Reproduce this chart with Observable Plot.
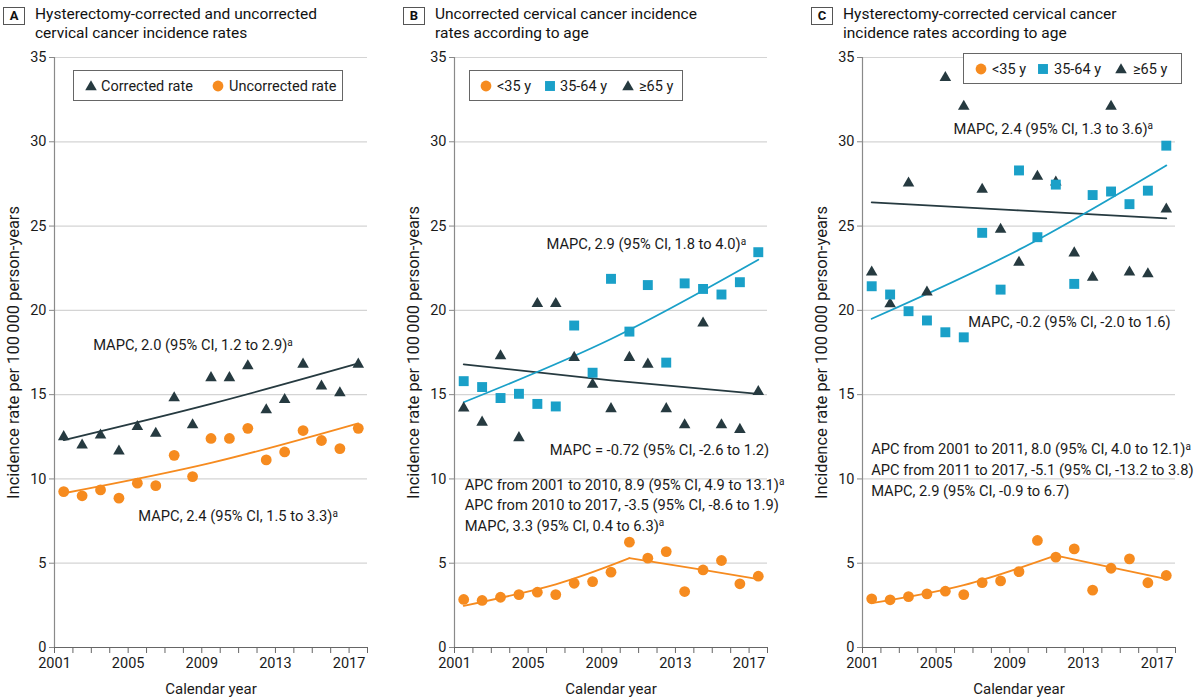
<!DOCTYPE html>
<html>
<head>
<meta charset="utf-8">
<script src="https://cdn.jsdelivr.net/npm/d3@7"></script>
<script src="https://cdn.jsdelivr.net/npm/@observablehq/plot@0.6"></script>
<style>
  body { margin: 0; background: #fff; font-family: Roboto, "Noto Sans", sans-serif; color: #1a1a1a; }
  #root { position: relative; width: 1200px; height: 700px; overflow: hidden; background: #fff; }
  .panel { position: absolute; top: 0; width: 400px; height: 700px; }
  .panel .plotwrap { position: absolute; left: 0; top: 50px; }
  .panel svg { overflow: visible; }
  .tag { position: absolute; left: 3px; top: 7px; width: 22px; height: 18px; border: 1px solid #555; box-sizing: border-box;
         font-weight: bold; font-size: 13px; text-align: center; line-height: 16px; color: #111; }
  .title { position: absolute; left: 35px; top: 5px; font-size: 15.5px; line-height: 18.5px; color: #111; white-space: nowrap; }
  .legend { position: absolute; border: 1px solid #666; background: #fff; box-sizing: border-box; height: 31px; }
  .legend .sym { position: absolute; top: 50%; transform: translate(-50%, -50%); }
  .legend .lab { position: absolute; top: 50%; transform: translateY(-50%); font-size: 14.5px; white-space: nowrap; color: #1a1a1a; }
</style>
</head>
<body>
<div id="root"></div>
<script>
// ---------- data ----------
const years = [2001, 2002, 2003, 2004, 2005, 2006, 2007, 2008, 2009, 2010, 2011, 2012, 2013, 2014, 2015, 2016, 2017];
const xAxisTicks = [2001, 2002, 2003, 2004, 2005, 2006, 2007, 2008, 2009, 2010, 2011, 2012, 2013, 2014, 2015, 2016, 2017, 2018];
const xTickLabels = [2001, 2005, 2009, 2013, 2017];
const yTicks = [0, 5, 10, 15, 20, 25, 30, 35];

// Panel A
const aCorrected   = [12.5, 12.0, 12.6, 11.65, 13.1, 12.7, 14.8, 13.2, 16.0, 16.0, 16.7, 14.1, 14.7, 16.8, 15.5, 15.1, 16.8];
const aUncorrected = [9.25, 9.0, 9.35, 8.86, 9.75, 9.6, 11.4, 10.14, 12.4, 12.4, 13.0, 11.13, 11.6, 12.87, 12.28, 11.8, 13.0];
const aCorrectedTrend   = [[2001, 12.3], [2009, 14.45], [2017, 16.85]];
const aUncorrectedTrend = [[2001, 9.15], [2009, 10.95], [2017, 13.3]];

// Panel B (uncorrected, by age)
const bUnder35 = [2.85, 2.79, 2.98, 3.14, 3.28, 3.14, 3.81, 3.91, 4.47, 6.25, 5.3, 5.69, 3.32, 4.6, 5.16, 3.78, 4.23];
const b35to64  = [15.8, 15.45, 14.8, 15.05, 14.45, 14.3, 19.1, 16.3, 21.87, 18.74, 21.5, 16.9, 21.6, 21.27, 20.94, 21.67, 23.45];
const b65plus  = [14.2, 13.36, 17.3, 12.44, 20.4, 20.4, 17.2, 15.6, 14.16, 17.2, 16.8, 14.16, 13.2, 19.24, 13.2, 12.93, 15.18];
const bUnder35TrendA = [[2001, 2.47], [2006, 3.75], [2010, 5.3]];
const bUnder35TrendB = [[2010, 5.3], [2014, 4.6], [2017, 4.06]];
const b35to64Trend   = [[2001, 14.55], [2009, 18.3], [2017, 23.0]];
const b65plusTrend   = [[2001, 16.8], [2009, 15.85], [2017, 15.05]];

// Panel C (hysterectomy-corrected, by age)
const cUnder35 = [2.89, 2.83, 3.02, 3.18, 3.34, 3.14, 3.85, 3.95, 4.5, 6.35, 5.36, 5.85, 3.4, 4.7, 5.26, 3.84, 4.27];
const c35to64  = [21.43, 20.94, 19.95, 19.4, 18.7, 18.4, 24.6, 21.23, 28.3, 24.34, 27.46, 21.57, 26.84, 27.05, 26.3, 27.1, 29.77];
const c65plus  = [22.26, 20.38, 27.54, 21.08, 33.8, 32.1, 27.17, 24.8, 22.85, 27.94, 27.6, 23.4, 21.96, 32.1, 22.26, 22.16, 26.0];
const cUnder35TrendA = [[2001, 2.63], [2006, 3.7], [2011, 5.46]];
const cUnder35TrendB = [[2011, 5.46], [2014, 4.75], [2017, 4.07]];
const c35to64Trend   = [[2001, 19.5], [2009, 23.6], [2017, 28.6]];
const c65plusTrend   = [[2001, 26.4], [2009, 25.93], [2017, 25.46]];

// text
const yLabel = "Incidence rate per 100\u2009000 person-years";
const xLabel = "Calendar year";
const titles = {
  A: ["Hysterectomy-corrected and uncorrected", "cervical cancer incidence rates"],
  B: ["Uncorrected cervical cancer incidence", "rates according to age"],
  C: ["Hysterectomy-corrected cervical cancer", "incidence rates according to age"]
};
const annotationsA = [
  {x: 2003.1, y: 17.9, text: "MAPC, 2.0 (95% CI, 1.2 to 2.9)ᵃ"},
  {x: 2005.55, y: 7.77, text: "MAPC, 2.4 (95% CI, 1.5 to 3.3)ᵃ"}
];
const annotationsB = [
  {x: 2006.0, y: 23.9, text: "MAPC, 2.9 (95% CI, 1.8 to 4.0)ᵃ"},
  {x: 2006.18, y: 11.72, text: "MAPC = -0.72 (95% CI, -2.6 to 1.2)"},
  {x: 2001.55, y: 9.65, text: "APC from 2001 to 2010, 8.9 (95% CI, 4.9 to 13.1)ᵃ"},
  {x: 2001.55, y: 8.42, text: "APC from 2010 to 2017, -3.5 (95% CI, -8.6 to 1.9)"},
  {x: 2001.55, y: 7.2, text: "MAPC, 3.3 (95% CI, 0.4 to 6.3)ᵃ"}
];
const annotationsC = [
  {x: 2005.94, y: 30.77, text: "MAPC, 2.4 (95% CI, 1.3 to 3.6)ᵃ"},
  {x: 2006.75, y: 19.3, text: "MAPC, -0.2 (95% CI, -2.0 to 1.6)"},
  {x: 2001.47, y: 11.73, text: "APC from 2001 to 2011, 8.0 (95% CI, 4.0 to 12.1)ᵃ"},
  {x: 2001.47, y: 10.54, text: "APC from 2011 to 2017, -5.1 (95% CI, -13.2 to 3.8)"},
  {x: 2001.47, y: 9.27, text: "MAPC, 2.9 (95% CI, -0.9 to 6.7)"}
];

// ---------- style ----------
const ORANGE = "#f68b1f", TEAL = "#1aa0c8", DARK = "#263a40";
const symStyle = {
  circle:   {symbol: "circle",   r: 5.4, fill: ORANGE},
  square:   {symbol: "square",   r: 5.6, fill: TEAL},
  triangle: {symbol: "triangle", r: 4.3, fill: DARK}
};

function rows(vals) { return years.map((yr, i) => ({x: yr + 0.5, y: vals[i]})); }
function trendRows(pts) { return pts.map(([yr, v]) => ({x: yr + 0.5, y: v})); }

function makePanel({letter, left, series, trends, annotations, legend}) {
  const root = document.getElementById("root");
  const panel = document.createElement("div");
  panel.className = "panel";
  panel.style.left = left + "px";
  root.appendChild(panel);

  const tag = document.createElement("div");
  tag.className = "tag"; tag.textContent = letter;
  panel.appendChild(tag);
  const title = document.createElement("div");
  title.className = "title";
  title.innerHTML = titles[letter].join("<br>");
  panel.appendChild(title);

  const marks = [
    Plot.gridY(yTicks.filter(v => v > 0), {stroke: "#d4d4d4", strokeOpacity: 1, strokeWidth: 1.2}),
    Plot.axisY(yTicks, {tickSize: 5, tickPadding: 3, stroke: "#888", fontSize: 14.5, label: null}),
    Plot.axisY({label: yLabel, labelAnchor: "center", labelArrow: "none", labelOffset: 47, fontSize: 16.5,
      ticks: [], tickSize: 0}),
    Plot.axisX(xAxisTicks, {tickSize: 6, tickPadding: 4, stroke: "#666", fontSize: 14.5,
      tickFormat: d => xTickLabels.includes(d) ? String(d) : "", label: null}),
    Plot.axisX({label: xLabel, labelAnchor: "center", labelArrow: "none", labelOffset: 46, fontSize: 15,
      ticks: [], tickSize: 0}),
    Plot.ruleX([2001], {stroke: "#8a8a8a", strokeWidth: 1.2}),
    Plot.ruleY([0], {stroke: "#666", strokeWidth: 1})
  ];
  for (const t of trends) {
    marks.push(Plot.line(trendRows(t.pts), {x: "x", y: "y", stroke: t.color, strokeWidth: 1.8, curve: "natural"}));
  }
  for (const s of series) {
    const st = symStyle[s.shape];
    marks.push(Plot.dot(rows(s.values), {x: "x", y: "y", symbol: st.symbol, r: st.r, fill: st.fill, stroke: "none"}));
  }
  marks.push(Plot.text(annotations, {x: "x", y: "y", text: "text", textAnchor: "start", fontSize: 14.7, fill: "#1a1a1a"}));

  const chart = Plot.plot({
    width: 400, height: 650,
    marginTop: 7, marginBottom: 53, marginLeft: 54, marginRight: 33,
    x: {domain: [2001, 2018]},
    y: {domain: [0, 35]},
    style: {fontFamily: "Roboto, 'Noto Sans', sans-serif", fontSize: "14.5px", color: "#1a1a1a", background: "transparent", overflow: "visible"},
    marks
  });
  // render the footnote marker "a" as a real superscript
  d3.select(chart).selectAll("text").each(function () {
    const t = this.textContent;
    if (t.endsWith("ᵃ") && this.childElementCount === 0) {
      this.textContent = t.slice(0, -1);
      d3.select(this).append("tspan").attr("font-size", 10).attr("dy", "-0.45em").text("a");
    }
  });
  const wrap = document.createElement("div");
  wrap.className = "plotwrap";
  wrap.appendChild(chart);
  panel.appendChild(wrap);

  // legend (HTML, over the plot)
  const lg = document.createElement("div");
  lg.className = "legend";
  lg.style.left = legend.left + "px"; lg.style.top = legend.top + "px"; lg.style.width = legend.width + "px";
  for (const it of legend.items) {
    const st = symStyle[it.shape];
    const size = it.shape === "triangle" ? 16 : 14;
    const sym = d3.create("svg").attr("width", size).attr("height", size).attr("class", "sym")
      .style("left", it.sx + "px");
    const area = Math.PI * st.r * st.r;
    const type = it.shape === "circle" ? d3.symbolCircle : it.shape === "square" ? d3.symbolSquare : d3.symbolTriangle;
    sym.append("path").attr("d", d3.symbol(type, area)()).attr("transform", `translate(${size/2},${size/2 + (it.shape==="triangle"?1:0)})`).attr("fill", st.fill);
    lg.appendChild(sym.node());
    const lab = document.createElement("span");
    lab.className = "lab"; lab.textContent = it.label; lab.style.left = it.tx + "px";
    lg.appendChild(lab);
  }
  panel.appendChild(lg);
}

makePanel({
  letter: "A", left: 0,
  series: [{values: aUncorrected, shape: "circle"}, {values: aCorrected, shape: "triangle"}],
  trends: [{pts: aCorrectedTrend, color: DARK}, {pts: aUncorrectedTrend, color: ORANGE}],
  annotations: annotationsA,
  legend: {left: 73, top: 70, width: 270, items: [
    {shape: "triangle", label: "Corrected rate", sx: 17, tx: 27},
    {shape: "circle", label: "Uncorrected rate", sx: 144, tx: 155}
  ]}
});
makePanel({
  letter: "B", left: 400,
  series: [{values: b65plus, shape: "triangle"}, {values: b35to64, shape: "square"}, {values: bUnder35, shape: "circle"}],
  trends: [{pts: b65plusTrend, color: DARK}, {pts: b35to64Trend, color: TEAL},
           {pts: bUnder35TrendA, color: ORANGE}, {pts: bUnder35TrendB, color: ORANGE}],
  annotations: annotationsB,
  legend: {left: 69, top: 70, width: 214, items: [
    {shape: "circle", label: "<35 y", sx: 16, tx: 27},
    {shape: "square", label: "35-64 y", sx: 80, tx: 90},
    {shape: "triangle", label: "≥65 y", sx: 158, tx: 169}
  ]}
});
makePanel({
  letter: "C", left: 808,
  series: [{values: c65plus, shape: "triangle"}, {values: c35to64, shape: "square"}, {values: cUnder35, shape: "circle"}],
  trends: [{pts: c65plusTrend, color: DARK}, {pts: c35to64Trend, color: TEAL},
           {pts: cUnder35TrendA, color: ORANGE}, {pts: cUnder35TrendB, color: ORANGE}],
  annotations: annotationsC,
  legend: {left: 155, top: 53, width: 219, items: [
    {shape: "circle", label: "<35 y", sx: 17, tx: 28},
    {shape: "square", label: "35-64 y", sx: 79, tx: 90},
    {shape: "triangle", label: "≥65 y", sx: 157, tx: 169}
  ]}
});
</script>
</body>
</html>
